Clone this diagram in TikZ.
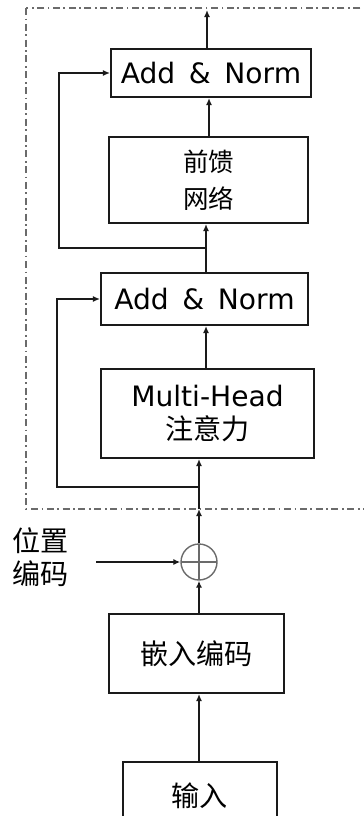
\documentclass[tikz,border=0pt]{standalone}
\usepackage{fontspec}
\setmainfont{DejaVu Sans}
\newfontfamily\cjk{Noto Sans CJK SC}
\usetikzlibrary{arrows.meta, positioning, calc}
\definecolor{cline}{HTML}{1A1A1A}
\definecolor{cgrey}{HTML}{6B6B6B}
\tikzset{
  every picture/.style={line width=0.8pt},
  box/.style={draw=cline, line width=1.2pt, fill=white, align=center, inner sep=0pt},
  arrow/.style={-{Latex[length=4pt, width=3.5pt]}, draw=cline},
  frame/.style={draw=cgrey, line width=0.8pt, dash pattern=on 4pt off 2pt on 1pt off 2pt},
  oplus/.style={circle, draw=cgrey, minimum size=0.72cm, inner sep=0pt,
    path picture={\draw[cgrey] (path picture bounding box.north) -- (path picture bounding box.south)
      (path picture bounding box.west) -- (path picture bounding box.east);}},
  big/.style={font=\fontsize{16}{19}\selectfont},
}

\begin{document}
\begin{tikzpicture}[x=0.02cm, y=-0.02cm]
  \useasboundingbox (0,0) rectangle (364,816);

  % encoder block frame
  \draw[frame] (26,8) rectangle (380,509);

  \node[box, big, minimum width=4cm, minimum height=0.96cm] (an1) at (211,73) {Add \,\&\, Norm};
  \node[box, font=\fontsize{14.5}{21}\selectfont, minimum width=3.98cm, minimum height=1.72cm] (ffn) at (208.5,180) {\cjk 前馈\\\cjk 网络};
  \node[box, big, minimum width=4.14cm, minimum height=1.04cm] (an2) at (204.5,299) {Add \,\&\, Norm};
  \node[box, big, minimum width=4.26cm, minimum height=1.78cm] (mha) at (207.5,413.5) {Multi-Head\\\cjk 注意力};

  \node[oplus] (plus) at (199,562) {};
  \node[big, align=left, anchor=west, inner sep=0pt] (pos) at (12,557) {\cjk 位置\\\cjk 编码};

  \node[box, big, minimum width=3.5cm, minimum height=1.58cm] (emb) at (196.5,653.5) {\cjk 嵌入编码};
  \node[box, big, minimum width=3.08cm, minimum height=1.36cm] (inp) at (200,796) {\cjk 输入};

  \coordinate (out) at (207,10);
  \coordinate (tr) at (199,509);
  \coordinate (r1) at (199,487);
  \coordinate (r1l) at (57,487);
  \coordinate (r2) at (206,248);
  \coordinate (r2l) at (59,248);
  \coordinate (pe) at (96,562);

  % main path
  \draw[arrow] (inp.north -| plus) -- (emb.south -| plus);
  \draw[arrow] (emb.north -| plus) -- (plus.south);
  \draw[arrow] (pe) -- (plus.west);
  \draw[arrow] (plus.north) -- (tr);
  \draw[arrow] (tr) -- (tr |- mha.south);
  \draw[arrow] (mha.north -| r2) -- (an2.south -| r2);
  \draw[arrow] (an2.north -| r2) -- (r2 |- ffn.south);
  \draw[arrow] (ffn.north -| 209,0) -- (an1.south -| 209,0);
  \draw[arrow] (an1.north -| out) -- (out);

  % residual connections
  \draw[arrow] (r1) -- (r1l) |- (an2.west);
  \draw[arrow] (r2) -- (r2l) |- (an1.west);
\end{tikzpicture}
\end{document}
